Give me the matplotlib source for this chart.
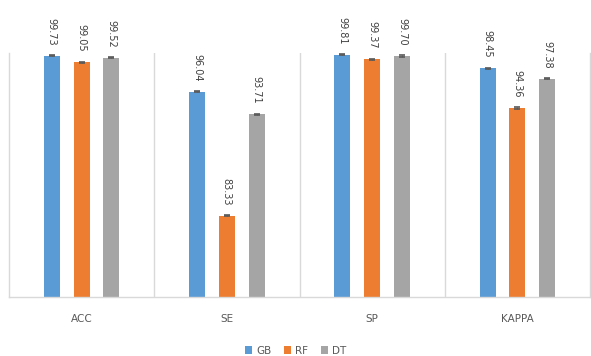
import matplotlib
matplotlib.use("Agg")
import matplotlib.pyplot as plt
import numpy as np

categories = ["ACC", "SE", "SP", "KAPPA"]
series = ["GB", "RF", "DT"]
gb = [99.73, 96.04, 99.81, 98.45]
rf = [99.05, 83.33, 99.37, 94.36]
dt = [99.52, 93.71, 99.70, 97.38]
colors = ["#5b9bd5", "#ed7d31", "#a5a5a5"]

W, H = 591, 356
fig = plt.figure(figsize=(W / 100, H / 100), dpi=100)
ax = fig.add_axes([9 / W, (H - 297) / H, (590 - 9) / W, (297 - 53) / H])

x = np.arange(len(categories))
offset = 0.205
width = 0.11
for i, (name, vals, col) in enumerate(zip(series, [gb, rf, dt], colors)):
    pos = x + (i - 1) * offset
    ax.bar(pos, vals, width=width, color=col, label=name, zorder=2)
    ax.errorbar(pos, vals, yerr=0.06, fmt="none", ecolor="#595959",
                elinewidth=0.8, capsize=2.5, capthick=1.2, zorder=3)
    for p, v in zip(pos, vals):
        ax.annotate(f"{v:.2f}", (p, v), xytext=(0, 7.5), textcoords="offset points",
                    rotation=-90, ha="center", va="bottom", fontsize=7,
                    color="#404040")

ax.set_xlim(-0.5, len(categories) - 0.5)
ax.set_ylim(75, 100)
ax.set_yticks([])
ax.set_xticks(x)
ax.set_xticklabels(categories, fontsize=7.5, color="#595959")
ax.tick_params(axis="x", length=0, pad=12)
for b in x[:-1] + 0.5:
    ax.axvline(b, color="#d9d9d9", lw=1, zorder=1)
for s in ["left", "right", "bottom"]:
    ax.spines[s].set_color("#d9d9d9")
    ax.spines[s].set_linewidth(1)
ax.spines["top"].set_visible(False)

fig.legend(loc="lower center", bbox_to_anchor=(0.5, -0.025), ncol=3, frameon=False,
           fontsize=7.5, handlelength=0.7, handleheight=0.7, handletextpad=0.4,
           columnspacing=1.2, labelcolor="#595959")

fig.savefig("out.png", dpi=100)
